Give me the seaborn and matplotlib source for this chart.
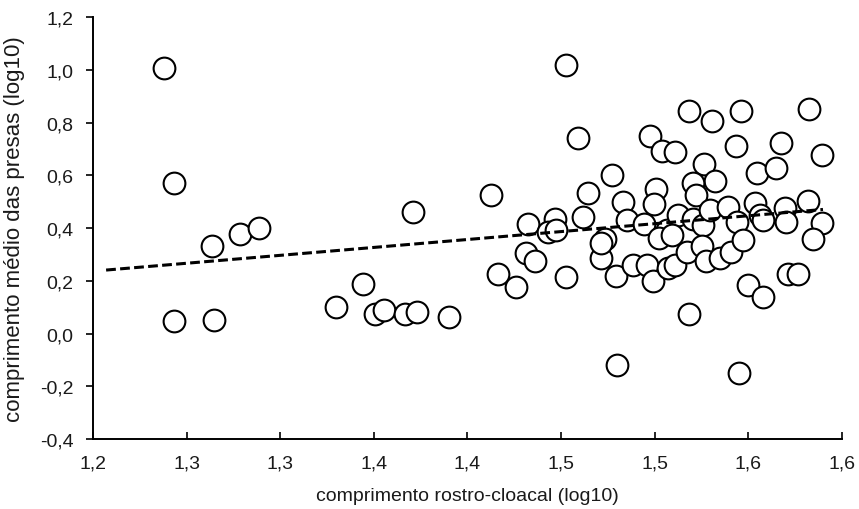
import numpy as np
import pandas as pd
import seaborn as sns
import matplotlib
matplotlib.use("Agg")
import matplotlib.pyplot as plt

# data
crc_log10 = [
    1.238, 1.2434, 1.2434, 1.2648, 1.2637, 1.2785, 1.2889, 1.3711, 1.3444, 1.3298,
    1.3507, 1.3556, 1.3667, 1.3733, 1.3904, 1.4527, 1.4126, 1.4591, 1.4775, 1.4646,
    1.4974, 1.5042, 1.5108, 1.5184, 1.5307, 1.5460, 1.5824, 1.5435, 1.5677, 1.5897,
    1.5266, 1.5322, 1.5203, 1.5220, 1.5545, 1.5649, 1.5010, 1.4997, 1.4833, 1.4620,
    1.4467, 1.4322, 1.4431, 1.4476, 1.4855, 1.4944, 1.5065, 1.5127, 1.5204, 1.5261,
    1.5297, 1.5394, 1.5441, 1.5537, 1.5564, 1.5582, 1.5699, 1.5702, 1.5822, 1.5893,
    1.5848, 1.4311, 1.4361, 1.4166, 1.4258, 1.4527, 1.4735, 1.4714, 1.4792, 1.4887,
    1.4958, 1.4990, 1.5074, 1.5109, 1.5026, 1.5092, 1.5172, 1.5252, 1.5275, 1.5350,
    1.5407, 1.5474, 1.5501, 1.5578, 1.5711, 1.5768, 1.5186, 1.4798, 1.5453, 1.4715,
]
presas_log10 = [
    1.008, 0.573, 0.048, 0.053, 0.332, 0.376, 0.399, 0.462, 0.187, 0.101,
    0.073, 0.089, 0.073, 0.082, 0.063, 1.020, 0.526, 0.741, 0.602, 0.535,
    0.750, 0.694, 0.689, 0.845, 0.808, 0.845, 0.853, 0.710, 0.722, 0.678,
    0.644, 0.579, 0.570, 0.526, 0.611, 0.627, 0.549, 0.490, 0.498, 0.441,
    0.435, 0.414, 0.384, 0.393, 0.431, 0.414, 0.393, 0.450, 0.435, 0.412,
    0.469, 0.481, 0.425, 0.494, 0.450, 0.431, 0.475, 0.424, 0.503, 0.418,
    0.357, 0.304, 0.276, 0.225, 0.177, 0.213, 0.357, 0.287, 0.219, 0.262,
    0.260, 0.199, 0.247, 0.262, 0.361, 0.374, 0.310, 0.332, 0.275, 0.285,
    0.308, 0.355, 0.184, 0.140, 0.225, 0.225, 0.073, -0.118, -0.150, 0.345,
]
trend_x_range = [1.207, 1.590]

x_ticks = [1.20, 1.25, 1.30, 1.35, 1.40, 1.45, 1.50, 1.55, 1.60]
x_tick_labels = ["1,2", "1,3", "1,3", "1,4", "1,4", "1,5", "1,5", "1,6", "1,6"]
y_ticks = [-0.4, -0.2, 0.0, 0.2, 0.4, 0.6, 0.8, 1.0, 1.2]
y_tick_labels = ["-0,4", "-0,2", "0,0", "0,2", "0,4", "0,6", "0,8", "1,0", "1,2"]

df = pd.DataFrame({"crc": crc_log10, "presas": presas_log10})

sns.set_style("white")
plt.rcParams["font.family"] = ["Liberation Sans", "DejaVu Sans"]

fig = plt.figure(figsize=(8.59, 5.10), dpi=100)
ax = fig.add_axes([93 / 859, 1 - 440 / 510, (841.7 - 93) / 859, (440 - 18.3) / 510])

sns.scatterplot(data=df, x="crc", y="presas", ax=ax, s=245, marker="o",
                facecolor="white", edgecolor="black", linewidth=1.5, zorder=2)

coef = np.polyfit(df["crc"], df["presas"], 1)
tx = np.array(trend_x_range)
sns.lineplot(x=tx, y=np.polyval(coef, tx), ax=ax, color="black", linewidth=2.2,
             dashes=False, zorder=3)
ax.lines[-1].set_dashes((3.2, 1.4))

ax.set_xlim(1.2, 1.6)
ax.set_ylim(-0.4, 1.2)
ax.set_xticks(x_ticks)
ax.set_xticklabels(x_tick_labels)
ax.set_yticks(y_ticks)
ax.set_yticklabels(y_tick_labels)

for s in ["top", "right"]:
    ax.spines[s].set_visible(False)
for s in ["left", "bottom"]:
    ax.spines[s].set_color("black")
    ax.spines[s].set_linewidth(1.4)

ax.tick_params(axis="x", direction="in", length=5, width=1.2, colors="black",
               labelsize=14, pad=11, bottom=True)
ax.tick_params(axis="y", direction="out", length=5, width=1.2, colors="black",
               labelsize=14, pad=9, left=True)
for lab in ax.get_xticklabels() + ax.get_yticklabels():
    lab.set_color("#1a1a1a")

ax.set_xlabel("comprimento rostro-cloacal (log10)", fontsize=14, color="#1a1a1a", labelpad=11)
ax.set_ylabel("comprimento médio das presas (log10)", fontsize=16, color="#1a1a1a", labelpad=11)

fig.savefig("out.png", dpi=100, facecolor="white")
